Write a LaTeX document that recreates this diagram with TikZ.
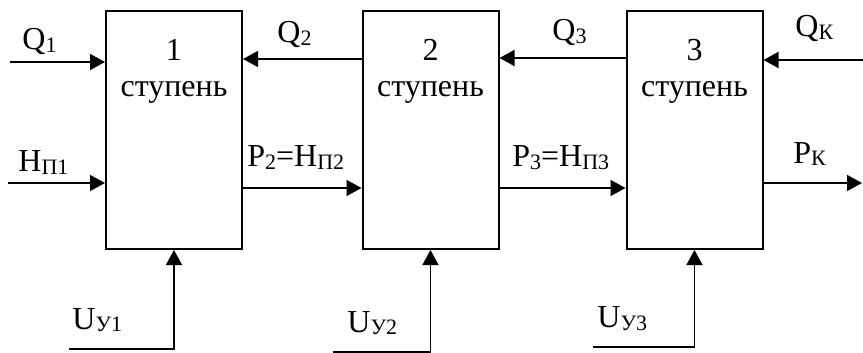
\documentclass[tikz,border=0pt]{standalone}
\usepackage{fontspec}
\setmainfont{Liberation Serif}
\usetikzlibrary{arrows.meta}
\newcommand{\idx}[1]{{\fontsize{11}{11}\selectfont\raisebox{-1.2pt}{#1}}}
\tikzset{
  stage/.style={draw, line width=1pt, minimum width=68pt, minimum height=119pt, inner sep=0pt},
  flow/.style={line width=0.75pt, -{Triangle[length=7.5pt,width=8pt]}},
  lbl/.style={inner sep=0pt, anchor=base west},
}
\begin{document}
\begin{tikzpicture}[x=0.5pt,y=-0.5pt,font=\fontsize{16}{18}\selectfont]
  \useasboundingbox (0,0) rectangle (863,353);
  % stages
  \node[stage] (s1) at (174,130) {};
  \node[stage] (s2) at (430.5,130) {};
  \node[stage] (s3) at (694.5,130) {};
  \node[align=center, anchor=north, inner sep=0pt] (t1) at ([yshift=-14.5pt]s1.north) {1\\ступень};
  \node[align=center, anchor=north, inner sep=0pt] (t2) at ([yshift=-14.5pt]s2.north) {2\\ступень};
  \node[align=center, anchor=north, inner sep=0pt] (t3) at ([yshift=-14.5pt]s3.north) {3\\ступень};
  % free ends
  \coordinate (q1in) at (10,62);
  \coordinate (h1in) at (8,183);
  \coordinate (qkin) at (863,60);
  \coordinate (pkout) at (862,183);
  \coordinate (u1) at (69,349);
  \coordinate (u2) at (333,352);
  \coordinate (u3) at (593,347);
  % flows
  \draw[flow] (q1in) -- ([yshift=34pt]s1.west);
  \draw[flow] (h1in) -- ([yshift=-26.5pt]s1.west);
  \draw[flow] ([yshift=35.5pt]s2.west) -- ([yshift=35.5pt]s1.east);
  \draw[flow] ([yshift=36pt]s3.west) -- ([yshift=36pt]s2.east);
  \draw[flow] (qkin) -- ([yshift=35pt]s3.east);
  \draw[flow] ([yshift=-29pt]s1.east) -- ([yshift=-29pt]s2.west);
  \draw[flow] ([yshift=-29pt]s2.east) -- ([yshift=-29pt]s3.west);
  \draw[flow] ([yshift=-26.5pt]s3.east) -- (pkout);
  % control inputs
  \draw[flow] (u1) -| (s1.south);
  \draw[flow] (u2) -| (s2.south);
  \draw[flow] (u3) -| (s3.south);
  % labels
  \node[lbl] (lq1) at (22,50) {Q\idx{1}};
  \node[lbl] (lq2) at (277,43) {Q\idx{2}};
  \node[lbl] (lq3) at (552,41) {Q\idx{3}};
  \node[lbl] (lqk) at (795,37) {Q\idx{К}};
  \node[lbl] (lh1) at (18,172) {H\idx{П1}};
  \node[lbl] (lp2) at (247,167) {P\idx{2}=H\idx{П2}};
  \node[lbl] (lp3) at (512,167) {P\idx{3}=H\idx{П3}};
  \node[lbl] (lpk) at (793,163) {P\idx{К}};
  \node[lbl] (lu1) at (72,329) {U\idx{У1}};
  \node[lbl] (lu2) at (347,332) {U\idx{У2}};
  \node[lbl] (lu3) at (597,328) {U\idx{У3}};
\end{tikzpicture}
\end{document}
